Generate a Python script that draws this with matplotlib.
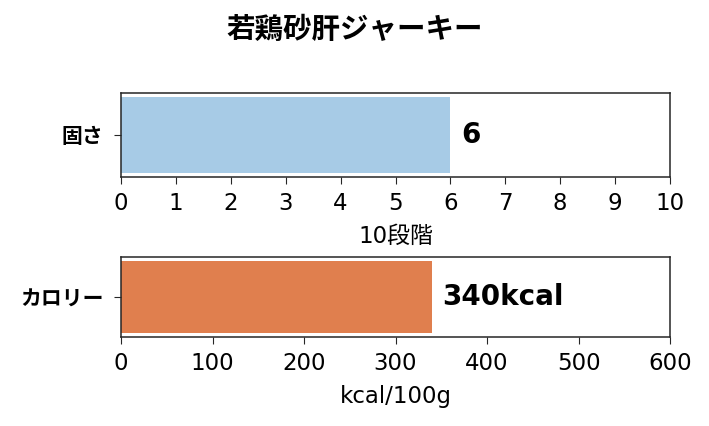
import matplotlib
matplotlib.use("Agg")
import matplotlib.pyplot as plt

plt.rcParams['font.family'] = ['DejaVu Sans', 'Noto Sans CJK JP']

title = "若鶏砂肝ジャーキー"
labels = ["固さ", "カロリー"]
values = [6, 340]
value_texts = ["6", "340kcal"]
xlims = [10, 600]
xticks = [list(range(0, 11)), list(range(0, 601, 100))]
xlabels = ["10段階", "kcal/100g"]
colors = ["#a7cbe6", "#e07f4e"]

fig = plt.figure(figsize=(7.09, 4.26), dpi=100)
positions = [
    [0.1707, 0.5845, 0.7743, 0.1972],
    [0.1707, 0.2089, 0.7743, 0.1878],
]

for i in range(2):
    ax = fig.add_axes(positions[i])
    ax.barh([0], [values[i]], height=0.9, color=colors[i])
    ax.set_xlim(0, xlims[i])
    ax.set_ylim(-0.5, 0.5)
    ax.set_xticks(xticks[i])
    ax.set_yticks([0])
    ax.set_yticklabels([labels[i]], fontweight='bold', fontsize=15,
                       family=['Noto Sans CJK JP'])
    ax.tick_params(axis='x', labelsize=16.5, length=5, pad=6, color='#262626')
    ax.tick_params(axis='y', length=5, pad=7.5, color='#262626')
    ax.set_xlabel(xlabels[i], fontsize=16.5, labelpad=7)
    for sp in ax.spines.values():
        sp.set_color('#262626')
        sp.set_linewidth(1.1)
    ax.annotate(value_texts[i], xy=(values[i], 0), xytext=(7.5, 0),
                textcoords='offset points', va='center', ha='left',
                fontsize=20, fontweight='bold')

fig.suptitle(title, x=0.5, y=0.962, fontsize=20.5, fontweight='bold',
             family=['Noto Sans CJK JP'])
fig.savefig("out.png", dpi=100)
